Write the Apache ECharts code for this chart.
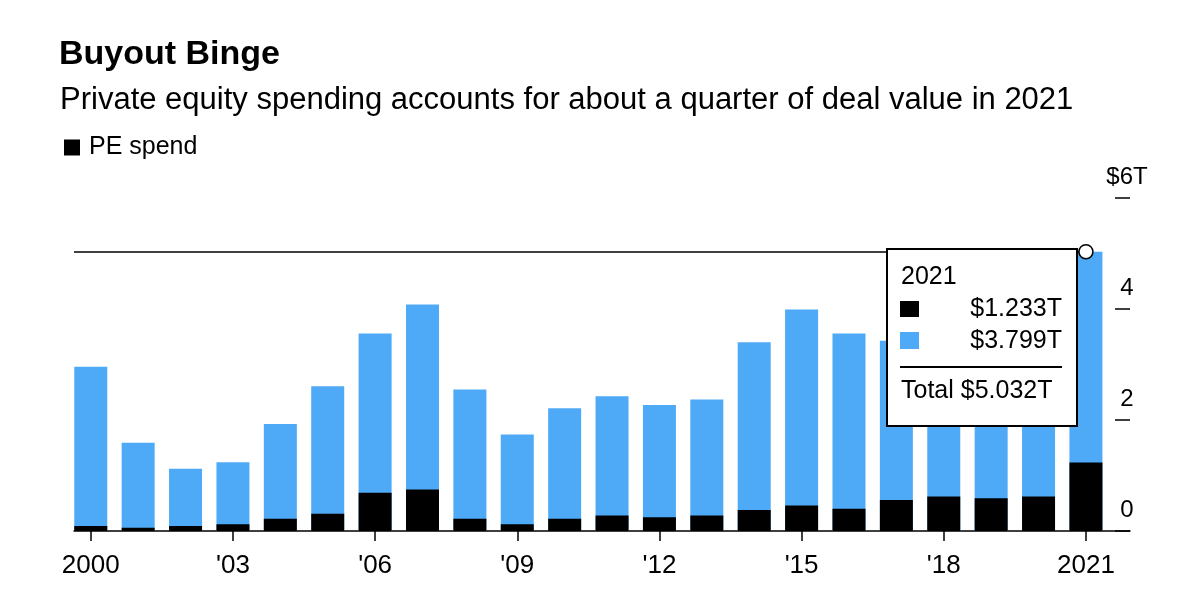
<!DOCTYPE html>
<html>
<head>
<meta charset="utf-8">
<script src="https://cdn.jsdelivr.net/npm/echarts@6/dist/echarts.min.js"></script>
<style>
html,body{margin:0;padding:0;background:#fff;}
#chart{width:1200px;height:611px;}
</style>
</head>
<body>
<div id="chart"></div>
<script>
// ---- data ----
const years = [2000,2001,2002,2003,2004,2005,2006,2007,2008,2009,2010,2011,2012,2013,2014,2015,2016,2017,2018,2019,2020,2021];
const peSpend = [0.09,0.06,0.09,0.12,0.22,0.31,0.69,0.75,0.22,0.12,0.22,0.28,0.25,0.28,0.38,0.46,0.40,0.56,0.62,0.59,0.62,1.233];
const totalDeals = [2.96,1.59,1.12,1.24,1.93,2.61,3.56,4.08,2.55,1.74,2.21,2.43,2.27,2.37,3.40,3.99,3.56,3.43,3.90,3.70,3.60,5.032];
const tickYears = [2000,2003,2006,2009,2012,2015,2018,2021];

// ---- layout constants ----
const X_MIN = 1999.646, X_MAX = 2021.93;
const BLUE = '#4EAAF6';
const FONT = 'Liberation Sans, Arial, Helvetica, sans-serif';

const last = years.length - 1;
const lastYear = years[last];
const lastPE = peSpend[last];
const lastTotal = totalDeals[last];
const lastOther = lastTotal - lastPE;
const fmtT = v => '$' + v.toFixed(3) + 'T';

const chart = echarts.init(document.getElementById('chart'), null, {renderer:'canvas'});

const Z = 100;
const option = {
  animation: false,
  backgroundColor: '#fff',
  textStyle: {fontFamily: FONT},
  title: [
    {text: 'Buyout Binge', left: 59, top: 38, padding: 0,
     textStyle: {fontFamily: FONT, fontWeight: 'bold', fontSize: 34, lineHeight: 34, color: '#000'}},
    {text: 'Private equity spending accounts for about a quarter of deal value in 2021', left: 60, top: 85, padding: 0,
     textStyle: {fontFamily: FONT, fontWeight: 'normal', fontSize: 31, lineHeight: 31, color: '#000'}}
  ],
  legend: {
    data: ['PE spend'], left: 64, top: 135, padding: 0, icon: 'rect',
    itemWidth: 16, itemHeight: 16, selectedMode: false,
    textStyle: {fontFamily: FONT, fontSize: 25, color: '#000', padding: [0,0,0,4]}
  },
  grid: {left: 74, right: 70, top: 198, bottom: 80},
  xAxis: {
    type: 'value', min: X_MIN, max: X_MAX,
    splitLine: {show: false},
    axisLine: {show: true, onZero: false, lineStyle: {color: '#000', width: 1.5}},
    axisTick: {show: true, customValues: tickYears, length: 10, lineStyle: {color: '#000', width: 1.5}},
    axisLabel: {
      customValues: tickYears, fontFamily: FONT, fontSize: 26, color: '#000', margin: 22,
      formatter: v => (v === years[0] || v === lastYear) ? String(v) : "'" + String(v).slice(2)
    }
  },
  yAxis: {
    type: 'value', position: 'right', min: 0, max: 6, interval: 2,
    axisLine: {show: false},
    splitLine: {show: false},
    axisTick: {show: true, inside: true, length: 15, lineStyle: {color: '#000', width: 1.5}},
    axisLabel: {
      fontFamily: FONT, fontSize: 24, color: '#000', align: 'center', verticalAlign: 'bottom',
      margin: -3, lineHeight: 24, padding: [0,0,9,0],
      formatter: v => v === 6 ? '$6T' : String(v)
    }
  },
  series: [
    {
      name: 'Total deals', type: 'bar', barWidth: 33, barGap: '-100%',
      itemStyle: {color: BLUE},
      data: years.map((y, i) => [y, totalDeals[i]]),
      markLine: {
        silent: true, symbol: ['none','none'],
        label: {show: false},
        lineStyle: {color: '#000', width: 1.5, type: 'solid'},
        data: [[{coord: [X_MIN, lastTotal]}, {coord: [lastYear, lastTotal]}]]
      }
    },
    {
      name: 'PE spend', type: 'bar', barWidth: 33, barGap: '-100%', z: 3,
      itemStyle: {color: '#000'},
      data: years.map((y, i) => [y, peSpend[i]])
    },
    {
      name: 'highlight', type: 'scatter', z: 5, symbolSize: 14,
      itemStyle: {color: '#fff', borderColor: '#000', borderWidth: 1.5, opacity: 1},
      data: [[lastYear, lastTotal]]
    }
  ],
  graphic: [{
    type: 'group', x: 887, y: 249, z: Z,
    children: [
      {type: 'rect', z: Z, shape: {x: 0, y: 0, width: 190, height: 177},
       style: {fill: '#fff', stroke: '#000', lineWidth: 2}},
      {type: 'text', z: Z + 1, x: 14, y: 28,
       style: {text: String(lastYear), font: '25px ' + FONT, fill: '#000', verticalAlign: 'middle', align: 'left'}},
      {type: 'rect', z: Z + 1, shape: {x: 13, y: 52, width: 19, height: 16}, style: {fill: '#000'}},
      {type: 'text', z: Z + 1, x: 175, y: 60,
       style: {text: fmtT(lastPE), font: '25px ' + FONT, fill: '#000', verticalAlign: 'middle', align: 'right'}},
      {type: 'rect', z: Z + 1, shape: {x: 13, y: 83, width: 19, height: 17}, style: {fill: BLUE}},
      {type: 'text', z: Z + 1, x: 175, y: 92,
       style: {text: fmtT(lastOther), font: '25px ' + FONT, fill: '#000', verticalAlign: 'middle', align: 'right'}},
      {type: 'line', z: Z + 1, shape: {x1: 13, y1: 118, x2: 175, y2: 118}, style: {stroke: '#000', lineWidth: 2}},
      {type: 'text', z: Z + 1, x: 14, y: 142,
       style: {text: 'Total ' + fmtT(lastTotal), font: '25px ' + FONT, fill: '#000', verticalAlign: 'middle', align: 'left'}}
    ]
  }]
};

chart.setOption(option);
</script>
</body>
</html>
